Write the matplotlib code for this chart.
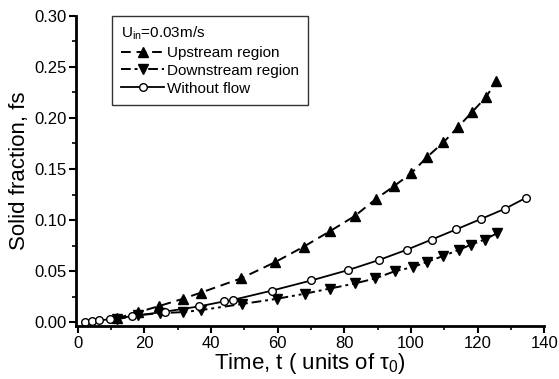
import matplotlib
matplotlib.use('Agg')
import matplotlib.pyplot as plt
from matplotlib.ticker import MultipleLocator

plt.rcParams['font.family'] = ['Liberation Sans', 'DejaVu Sans']
plt.rcParams['mathtext.fontset'] = 'custom'
plt.rcParams['mathtext.rm'] = 'Liberation Sans'
plt.rcParams['mathtext.it'] = 'Liberation Sans'

# solid fraction vs time (t in units of tau0)
t_up = [11.7, 18.2, 24.5, 31.5, 36.9, 49.0, 59.3, 67.8, 75.6, 83.1, 89.6,
        94.8, 100.1, 104.9, 109.7, 114.1, 118.4, 122.4, 125.6]
fs_up = [0.004, 0.010, 0.016, 0.023, 0.029, 0.043, 0.059, 0.074, 0.089, 0.104, 0.121,
         0.133, 0.146, 0.162, 0.176, 0.191, 0.206, 0.220, 0.236]

t_down = [11.7, 18.2, 24.7, 31.6, 37.0, 49.4, 59.7, 68.1, 75.6, 83.1, 89.3,
          95.1, 100.5, 104.7, 109.7, 114.4, 118.0, 122.1, 125.7]
fs_down = [0.003, 0.007, 0.009, 0.010, 0.012, 0.018, 0.023, 0.028, 0.033, 0.038, 0.043,
           0.050, 0.054, 0.059, 0.065, 0.071, 0.076, 0.081, 0.087]

t_still = [2.2, 4.2, 6.5, 9.7, 16.2, 26.2, 36.4, 43.9, 46.6, 58.2, 70.1, 81.0,
           90.4, 98.7, 106.2, 113.6, 120.9, 128.1, 134.6]
fs_still = [0.000, 0.001, 0.002, 0.003, 0.006, 0.0105, 0.0156, 0.0205, 0.022, 0.031, 0.041, 0.051,
            0.061, 0.071, 0.081, 0.091, 0.101, 0.111, 0.122]

fig = plt.figure(figsize=(5.59, 3.79), dpi=100)
ax = fig.add_axes([0.136, 0.140, 0.838, 0.819])

ax.plot(t_up, fs_up, color='black', linestyle=(0, (5, 3)), linewidth=1.4,
        marker='^', markersize=6.5, markerfacecolor='black', label='Upstream region')
ax.plot(t_down, fs_down, color='black', linestyle=(0, (5, 2, 1.5, 2, 1.5, 2)), linewidth=1.4,
        marker='v', markersize=6.5, markerfacecolor='black', label='Downstream region')
ax.plot(t_still, fs_still, color='black', linestyle='-', linewidth=1.3,
        marker='o', markersize=5.5, markerfacecolor='white', markeredgewidth=1.0,
        label='Without flow')

ax.set_xlim(-0.5, 140)
ax.set_ylim(-0.0035, 0.30)
ax.xaxis.set_major_locator(MultipleLocator(20))
ax.xaxis.set_minor_locator(MultipleLocator(10))
ax.yaxis.set_major_locator(MultipleLocator(0.05))
ax.yaxis.set_minor_locator(MultipleLocator(0.025))
ax.yaxis.set_major_formatter(matplotlib.ticker.FormatStrFormatter('%.2f'))

for side in ['top', 'right']:
    ax.spines[side].set_visible(False)
for side in ['left', 'bottom']:
    ax.spines[side].set_linewidth(2)
ax.tick_params(which='major', direction='out', length=5, width=1.5, labelsize=12, pad=2)
ax.tick_params(which='minor', direction='out', length=3, width=1.2)

ax.set_xlabel(r'Time, t ( units of $\tau_0$)', fontsize=16, labelpad=0)
ax.set_ylabel('Solid fraction, fs', fontsize=16, labelpad=3)

leg = ax.legend(loc='upper left', bbox_to_anchor=(0.077, 1.0), borderaxespad=0,
                title=r'U$_{\rm in}$=0.03m/s',
                fontsize=11, title_fontsize=11, frameon=True, fancybox=False,
                edgecolor='black', handlelength=2.8, handletextpad=0.2,
                borderpad=0.6, labelspacing=0.25, alignment='left')
leg.get_frame().set_linewidth(1.0)

fig.savefig('out.png', dpi=100)
